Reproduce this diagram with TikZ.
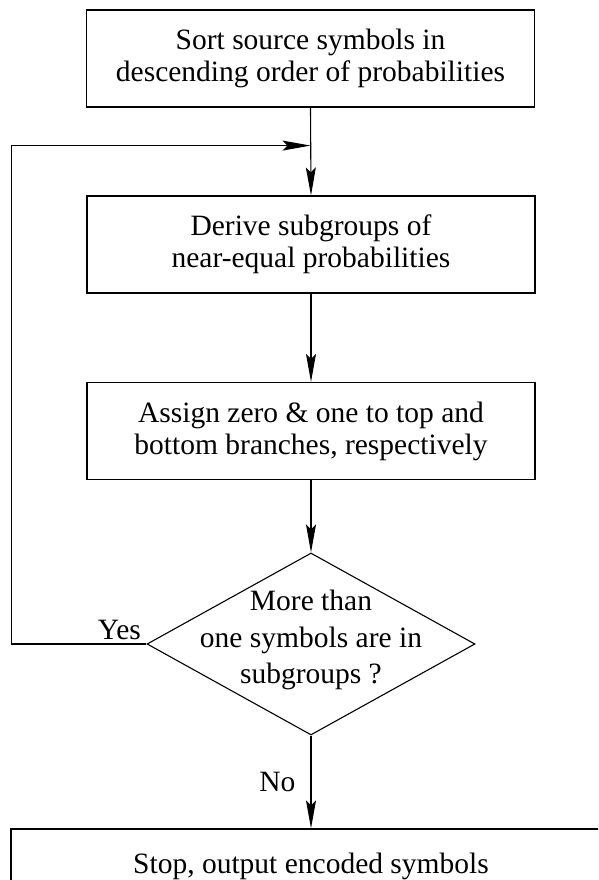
\documentclass[tikz,border=0pt]{standalone}
\usepackage{fontspec}
\setmainfont{Liberation Serif}
\usetikzlibrary{arrows.meta,shapes.geometric}
\tikzset{stepbox/.style={draw, rectangle, line width=1.2pt, align=center,
         inner sep=0pt, minimum width=448pt, minimum height=97pt,
         font=\fontsize{29.5}{32}\selectfont},
         decide/.style={draw, diamond, line width=1.1pt, inner sep=0pt,
         minimum width=328pt, minimum height=182pt},
         flow/.style={line width=1.1pt, -{Stealth[length=28pt,width=10pt,inset=5pt]}},
         tag/.style={font=\fontsize{29.5}{36.5}\selectfont, align=center, inner sep=0pt}}

\begin{document}
\begin{tikzpicture}[x=1pt,y=1pt]
  \clip (0,0) rectangle (598,880);
  \node[stepbox] (sort)   at (310.5,821.5) {Sort source symbols in\\descending order of probabilities};
  \node[stepbox] (derive) at (311,635.5)   {Derive subgroups of\\near-equal probabilities};
  \node[stepbox] (assign) at (311,449)     {Assign zero \& one to top and\\bottom branches, respectively};
  \node[decide]  (more)   at (311,236)     {};
  \node[tag]     (moretext) at (311,240)   {More than\\one symbols are in\\subgroups ?};
  \node[stepbox, minimum width=600pt, minimum height=74pt] (stop) at (311,14) {Stop, output encoded symbols};
  \path (sort.south) ++(0,-38) coordinate (join);
  % main flow
  \draw[flow] (sort.south) -- (derive.north);
  \draw[flow] (derive.south) -- (assign.north);
  \draw[flow] (assign.south) -- (more.north);
  \draw[flow] (more.south) -- node[tag, left=15pt] (no) {No} (stop.north);
  % back to the subgroups
  \draw[flow] (more.west) -- node[tag, above=4pt, pos=0.2] (yes) {Yes} ++(-135,0) |- (join);
\end{tikzpicture}
\end{document}
